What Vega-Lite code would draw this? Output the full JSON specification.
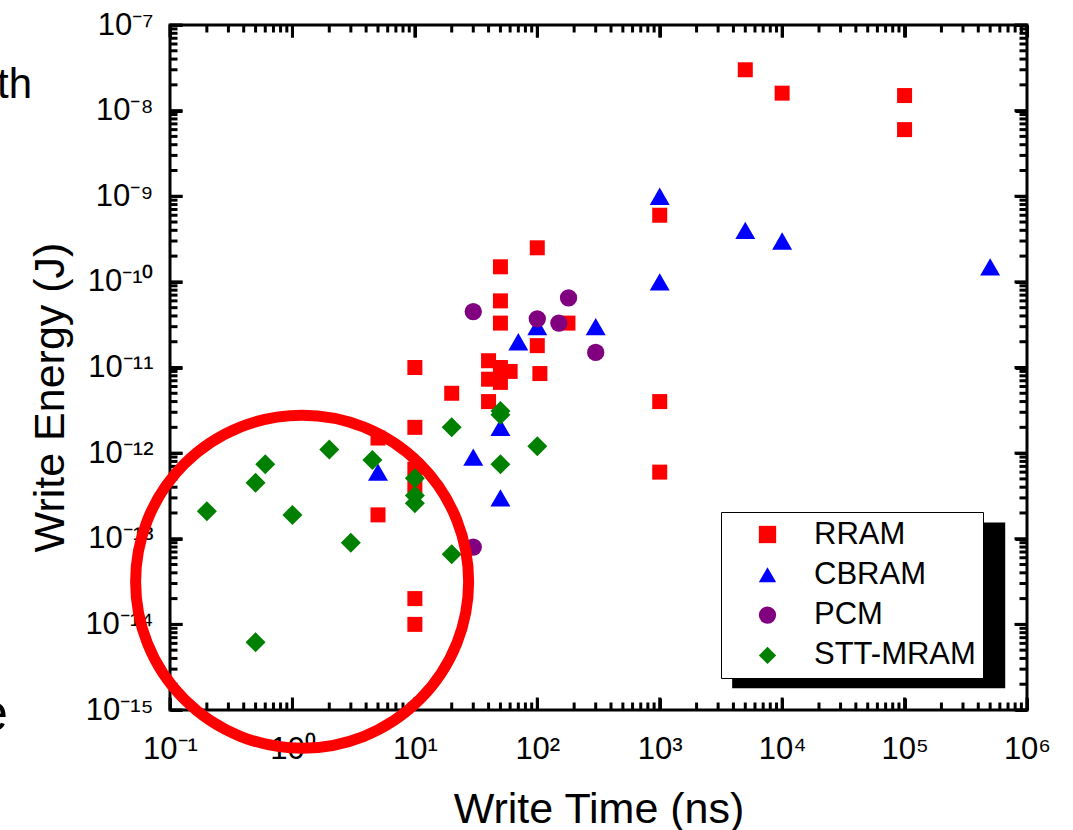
{
  "$schema": "https://vega.github.io/schema/vega-lite/v6.json",
  "width": 857,
  "height": 685,
  "autosize": {"type": "none"},
  "padding": {"left": 170, "top": 25, "right": 46, "bottom": 120},
  "background": "white",
  "config": {
    "view": {"stroke": "black", "strokeWidth": 3},
    "font": "Liberation Sans",
    "axis": {
      "grid": false,
      "domain": false,
      "ticks": true,
      "tickColor": "#000000",
      "labelColor": "black",
      "titleColor": "black",
      "tickWidth": 3,
      "labelFont": "Liberation Sans",
      "titleFont": "Liberation Sans",
      "titleFontWeight": "normal",
      "labelFlush": false,
      "labelOverlap": false
    }
  },
  "datasets": {
    "points": [
      {"series": "RRAM", "time": 5000, "energy": 3e-8},
      {"series": "RRAM", "time": 10000, "energy": 1.6e-8},
      {"series": "RRAM", "time": 100000, "energy": 1.5e-8},
      {"series": "RRAM", "time": 100000, "energy": 6e-9},
      {"series": "RRAM", "time": 1000, "energy": 6e-10},
      {"series": "RRAM", "time": 1000, "energy": 4e-12},
      {"series": "RRAM", "time": 1000, "energy": 6e-13},
      {"series": "RRAM", "time": 100, "energy": 2.5e-10},
      {"series": "RRAM", "time": 50, "energy": 1.5e-10},
      {"series": "RRAM", "time": 50, "energy": 6e-11},
      {"series": "RRAM", "time": 50, "energy": 3.3e-11},
      {"series": "RRAM", "time": 100, "energy": 1.8e-11},
      {"series": "RRAM", "time": 105, "energy": 8.5e-12},
      {"series": "RRAM", "time": 178, "energy": 3.3e-11},
      {"series": "RRAM", "time": 40, "energy": 1.2e-11},
      {"series": "RRAM", "time": 50, "energy": 1e-11},
      {"series": "RRAM", "time": 60, "energy": 9e-12},
      {"series": "RRAM", "time": 40, "energy": 7.3e-12},
      {"series": "RRAM", "time": 50, "energy": 6.7e-12},
      {"series": "RRAM", "time": 40, "energy": 4e-12},
      {"series": "RRAM", "time": 10, "energy": 1e-11},
      {"series": "RRAM", "time": 20, "energy": 5e-12},
      {"series": "RRAM", "time": 10, "energy": 2e-12},
      {"series": "RRAM", "time": 5, "energy": 1.5e-12},
      {"series": "RRAM", "time": 5, "energy": 1.9e-13},
      {"series": "RRAM", "time": 10, "energy": 2e-14},
      {"series": "RRAM", "time": 10, "energy": 1e-14},
      {"series": "RRAM", "time": 10, "energy": 6.5e-13},
      {"series": "RRAM", "time": 10, "energy": 4.2e-13},
      {"series": "CBRAM", "time": 1000, "energy": 1e-9},
      {"series": "CBRAM", "time": 5000, "energy": 4e-10},
      {"series": "CBRAM", "time": 10000, "energy": 3e-10},
      {"series": "CBRAM", "time": 500000, "energy": 1.5e-10},
      {"series": "CBRAM", "time": 1000, "energy": 1e-10},
      {"series": "CBRAM", "time": 300, "energy": 3e-11},
      {"series": "CBRAM", "time": 70, "energy": 2e-11},
      {"series": "CBRAM", "time": 100, "energy": 3e-11},
      {"series": "CBRAM", "time": 50, "energy": 2e-12},
      {"series": "CBRAM", "time": 30, "energy": 9e-13},
      {"series": "CBRAM", "time": 5, "energy": 6e-13},
      {"series": "CBRAM", "time": 50, "energy": 3e-13},
      {"series": "PCM", "time": 30, "energy": 4.5e-11},
      {"series": "PCM", "time": 180, "energy": 6.5e-11},
      {"series": "PCM", "time": 100, "energy": 3.7e-11},
      {"series": "PCM", "time": 150, "energy": 3.3e-11},
      {"series": "PCM", "time": 300, "energy": 1.5e-11},
      {"series": "PCM", "time": 30, "energy": 8e-14},
      {"series": "STT-MRAM", "time": 0.2, "energy": 2.1e-13},
      {"series": "STT-MRAM", "time": 0.5, "energy": 4.5e-13},
      {"series": "STT-MRAM", "time": 0.6, "energy": 7.4e-13},
      {"series": "STT-MRAM", "time": 1, "energy": 1.9e-13},
      {"series": "STT-MRAM", "time": 2, "energy": 1.1e-12},
      {"series": "STT-MRAM", "time": 3, "energy": 9e-14},
      {"series": "STT-MRAM", "time": 4.5, "energy": 8.3e-13},
      {"series": "STT-MRAM", "time": 10, "energy": 5.1e-13},
      {"series": "STT-MRAM", "time": 10, "energy": 3.2e-13},
      {"series": "STT-MRAM", "time": 10, "energy": 2.6e-13},
      {"series": "STT-MRAM", "time": 20, "energy": 2e-12},
      {"series": "STT-MRAM", "time": 20, "energy": 6.6e-14},
      {"series": "STT-MRAM", "time": 0.5, "energy": 6.2e-15},
      {"series": "STT-MRAM", "time": 50, "energy": 3.1e-12},
      {"series": "STT-MRAM", "time": 50, "energy": 2.8e-12},
      {"series": "STT-MRAM", "time": 100, "energy": 1.2e-12},
      {"series": "STT-MRAM", "time": 50, "energy": 7.4e-13}
    ],
    "xticks": [
      {"time": 0.1, "kind": "major"}, {"time": 0.2, "kind": "minor"}, {"time": 0.3, "kind": "minor"}, {"time": 0.4, "kind": "minor"}, {"time": 0.5, "kind": "minor"}, {"time": 0.6, "kind": "minor"}, {"time": 0.7, "kind": "minor"}, {"time": 0.8, "kind": "minor"}, {"time": 0.9, "kind": "minor"},
      {"time": 1, "kind": "major"}, {"time": 2, "kind": "minor"}, {"time": 3, "kind": "minor"}, {"time": 4, "kind": "minor"}, {"time": 5, "kind": "minor"}, {"time": 6, "kind": "minor"}, {"time": 7, "kind": "minor"}, {"time": 8, "kind": "minor"}, {"time": 9, "kind": "minor"},
      {"time": 10, "kind": "major"}, {"time": 20, "kind": "minor"}, {"time": 30, "kind": "minor"}, {"time": 40, "kind": "minor"}, {"time": 50, "kind": "minor"}, {"time": 60, "kind": "minor"}, {"time": 70, "kind": "minor"}, {"time": 80, "kind": "minor"}, {"time": 90, "kind": "minor"},
      {"time": 100, "kind": "major"}, {"time": 200, "kind": "minor"}, {"time": 300, "kind": "minor"}, {"time": 400, "kind": "minor"}, {"time": 500, "kind": "minor"}, {"time": 600, "kind": "minor"}, {"time": 700, "kind": "minor"}, {"time": 800, "kind": "minor"}, {"time": 900, "kind": "minor"},
      {"time": 1000, "kind": "major"}, {"time": 2000, "kind": "minor"}, {"time": 3000, "kind": "minor"}, {"time": 4000, "kind": "minor"}, {"time": 5000, "kind": "minor"}, {"time": 6000, "kind": "minor"}, {"time": 7000, "kind": "minor"}, {"time": 8000, "kind": "minor"}, {"time": 9000, "kind": "minor"},
      {"time": 10000, "kind": "major"}, {"time": 20000, "kind": "minor"}, {"time": 30000, "kind": "minor"}, {"time": 40000, "kind": "minor"}, {"time": 50000, "kind": "minor"}, {"time": 60000, "kind": "minor"}, {"time": 70000, "kind": "minor"}, {"time": 80000, "kind": "minor"}, {"time": 90000, "kind": "minor"},
      {"time": 100000, "kind": "major"}, {"time": 200000, "kind": "minor"}, {"time": 300000, "kind": "minor"}, {"time": 400000, "kind": "minor"}, {"time": 500000, "kind": "minor"}, {"time": 600000, "kind": "minor"}, {"time": 700000, "kind": "minor"}, {"time": 800000, "kind": "minor"}, {"time": 900000, "kind": "minor"},
      {"time": 1000000, "kind": "major"}
    ],
    "yticks": [
      {"energy": 1e-15, "kind": "major"}, {"energy": 2e-15, "kind": "minor"}, {"energy": 3e-15, "kind": "minor"}, {"energy": 4e-15, "kind": "minor"}, {"energy": 5e-15, "kind": "minor"}, {"energy": 6e-15, "kind": "minor"}, {"energy": 7e-15, "kind": "minor"}, {"energy": 8e-15, "kind": "minor"}, {"energy": 9e-15, "kind": "minor"},
      {"energy": 1e-14, "kind": "major"}, {"energy": 2e-14, "kind": "minor"}, {"energy": 3e-14, "kind": "minor"}, {"energy": 4e-14, "kind": "minor"}, {"energy": 5e-14, "kind": "minor"}, {"energy": 6e-14, "kind": "minor"}, {"energy": 7e-14, "kind": "minor"}, {"energy": 8e-14, "kind": "minor"}, {"energy": 9e-14, "kind": "minor"},
      {"energy": 1e-13, "kind": "major"}, {"energy": 2e-13, "kind": "minor"}, {"energy": 3e-13, "kind": "minor"}, {"energy": 4e-13, "kind": "minor"}, {"energy": 5e-13, "kind": "minor"}, {"energy": 6e-13, "kind": "minor"}, {"energy": 7e-13, "kind": "minor"}, {"energy": 8e-13, "kind": "minor"}, {"energy": 9e-13, "kind": "minor"},
      {"energy": 1e-12, "kind": "major"}, {"energy": 2e-12, "kind": "minor"}, {"energy": 3e-12, "kind": "minor"}, {"energy": 4e-12, "kind": "minor"}, {"energy": 5e-12, "kind": "minor"}, {"energy": 6e-12, "kind": "minor"}, {"energy": 7e-12, "kind": "minor"}, {"energy": 8e-12, "kind": "minor"}, {"energy": 9e-12, "kind": "minor"},
      {"energy": 1e-11, "kind": "major"}, {"energy": 2e-11, "kind": "minor"}, {"energy": 3e-11, "kind": "minor"}, {"energy": 4e-11, "kind": "minor"}, {"energy": 5e-11, "kind": "minor"}, {"energy": 6e-11, "kind": "minor"}, {"energy": 7e-11, "kind": "minor"}, {"energy": 8e-11, "kind": "minor"}, {"energy": 9e-11, "kind": "minor"},
      {"energy": 1e-10, "kind": "major"}, {"energy": 2e-10, "kind": "minor"}, {"energy": 3e-10, "kind": "minor"}, {"energy": 4e-10, "kind": "minor"}, {"energy": 5e-10, "kind": "minor"}, {"energy": 6e-10, "kind": "minor"}, {"energy": 7e-10, "kind": "minor"}, {"energy": 8e-10, "kind": "minor"}, {"energy": 9e-10, "kind": "minor"},
      {"energy": 1e-9, "kind": "major"}, {"energy": 2e-9, "kind": "minor"}, {"energy": 3e-9, "kind": "minor"}, {"energy": 4e-9, "kind": "minor"}, {"energy": 5e-9, "kind": "minor"}, {"energy": 6e-9, "kind": "minor"}, {"energy": 7e-9, "kind": "minor"}, {"energy": 8e-9, "kind": "minor"}, {"energy": 9e-9, "kind": "minor"},
      {"energy": 1e-8, "kind": "major"}, {"energy": 2e-8, "kind": "minor"}, {"energy": 3e-8, "kind": "minor"}, {"energy": 4e-8, "kind": "minor"}, {"energy": 5e-8, "kind": "minor"}, {"energy": 6e-8, "kind": "minor"}, {"energy": 7e-8, "kind": "minor"}, {"energy": 8e-8, "kind": "minor"}, {"energy": 9e-8, "kind": "minor"},
      {"energy": 1e-7, "kind": "major"}
    ],
    "ring": [{"time": 1.2, "energy": 3.15e-14}],
    "shadow": [{"time": 3905, "time2": 663700, "energy": 1.55e-13, "energy2": 1.8e-15}],
    "cut1": [{"time": 0.00746, "energy": 1.4e-8, "label": "th"}],
    "cut2": [{"time": 0.00475, "energy": 5.8e-16, "label": "e"}]
  },
  "layer": [
    {
      "data": {"name": "shadow"},
      "mark": {"type": "rect", "color": "black"},
      "encoding": {
        "x": {"field": "time", "type": "quantitative", "scale": {"type": "log", "domain": [0.1, 1000000], "nice": false}, "axis": null},
        "x2": {"field": "time2"},
        "y": {"field": "energy", "type": "quantitative", "scale": {"type": "log", "domain": [1e-15, 1e-7], "nice": false}, "axis": null},
        "y2": {"field": "energy2"}
      }
    },
    {
      "data": {"name": "xticks"},
      "mark": {"type": "point", "shape": "M0,0L0,-1", "filled": false, "stroke": "#000000", "strokeWidth": 3, "opacity": 1, "strokeOpacity": 1},
      "encoding": {
        "x": {"field": "time", "type": "quantitative", "scale": {"type": "log", "domain": [0.1, 1000000], "nice": false}, "axis": null},
        "y": {"datum": 1e-15, "type": "quantitative", "scale": {"type": "log", "domain": [1e-15, 1e-7], "nice": false}, "axis": null},
        "size": {"field": "kind", "type": "nominal", "scale": {"type": "ordinal", "domain": ["major", "minor"], "range": [625, 225]}, "legend": null}
      }
    },
    {
      "data": {"name": "xticks"},
      "mark": {"type": "point", "shape": "M0,0L0,1", "filled": false, "stroke": "#000000", "strokeWidth": 3, "opacity": 1, "strokeOpacity": 1},
      "encoding": {
        "x": {"field": "time", "type": "quantitative", "scale": {"type": "log", "domain": [0.1, 1000000], "nice": false}, "axis": null},
        "y": {"datum": 1e-7, "type": "quantitative", "scale": {"type": "log", "domain": [1e-15, 1e-7], "nice": false}, "axis": null},
        "size": {"field": "kind", "type": "nominal", "scale": {"type": "ordinal", "domain": ["major", "minor"], "range": [625, 225]}, "legend": null}
      }
    },
    {
      "data": {"name": "yticks"},
      "mark": {"type": "point", "shape": "M0,0L1,0", "filled": false, "stroke": "#000000", "strokeWidth": 3, "opacity": 1, "strokeOpacity": 1},
      "encoding": {
        "x": {"datum": 0.1, "type": "quantitative", "scale": {"type": "log", "domain": [0.1, 1000000], "nice": false}, "axis": null},
        "y": {"field": "energy", "type": "quantitative", "scale": {"type": "log", "domain": [1e-15, 1e-7], "nice": false}, "axis": null},
        "size": {"field": "kind", "type": "nominal", "scale": {"type": "ordinal", "domain": ["major", "minor"], "range": [625, 225]}, "legend": null}
      }
    },
    {
      "data": {"name": "yticks"},
      "mark": {"type": "point", "shape": "M0,0L-1,0", "filled": false, "stroke": "#000000", "strokeWidth": 3, "opacity": 1, "strokeOpacity": 1},
      "encoding": {
        "x": {"datum": 1000000, "type": "quantitative", "scale": {"type": "log", "domain": [0.1, 1000000], "nice": false}, "axis": null},
        "y": {"field": "energy", "type": "quantitative", "scale": {"type": "log", "domain": [1e-15, 1e-7], "nice": false}, "axis": null},
        "size": {"field": "kind", "type": "nominal", "scale": {"type": "ordinal", "domain": ["major", "minor"], "range": [625, 225]}, "legend": null}
      }
    },
    {
      "data": {"name": "points"},
      "mark": {"type": "point", "filled": true, "opacity": 1, "strokeWidth": 0},
      "encoding": {
        "x": {
          "field": "time", "type": "quantitative",
          "scale": {"type": "log", "domain": [0.1, 1000000], "nice": false},
          "axis": {
            "orient": "bottom",
            "offset": -12,
            "tickSize": 12,
            "values": [0.1, 1, 10, 100, 1000, 10000, 100000, 1000000],
            "labelExpr": "'10' + replace(replace(replace(replace(replace(replace(replace(replace(replace(replace(replace('' + round(log(datum.value)/LN10), regexp('-','g'), '⁻'), regexp('0','g'), '⁰'), regexp('1','g'), '¹'), regexp('2','g'), '²'), regexp('3','g'), '³'), regexp('4','g'), '⁴'), regexp('5','g'), '⁵'), regexp('6','g'), '⁶'), regexp('7','g'), '⁷'), regexp('8','g'), '⁸'), regexp('9','g'), '⁹')",
            "labelFontSize": 31,
            "labelPadding": 48,
            "labelBaseline": "alphabetic",
            "title": "Write Time (ns)",
            "titleFontSize": 43,
            "titleBaseline": "alphabetic",
            "titleY": 124
          }
        },
        "y": {
          "field": "energy", "type": "quantitative",
          "scale": {"type": "log", "domain": [1e-15, 1e-7], "nice": false},
          "axis": {
            "orient": "left",
            "offset": -12,
            "tickSize": 12,
            "values": [1e-15, 1e-14, 1e-13, 1e-12, 1e-11, 1e-10, 1e-9, 1e-8, 1e-7],
            "labelExpr": "'10' + replace(replace(replace(replace(replace(replace(replace(replace(replace(replace(replace('' + round(log(datum.value)/LN10), regexp('-','g'), '⁻'), regexp('0','g'), '⁰'), regexp('1','g'), '¹'), regexp('2','g'), '²'), regexp('3','g'), '³'), regexp('4','g'), '⁴'), regexp('5','g'), '⁵'), regexp('6','g'), '⁶'), regexp('7','g'), '⁷'), regexp('8','g'), '⁸'), regexp('9','g'), '⁹')",
            "labelFontSize": 31,
            "labelPadding": 17,
            "title": "Write Energy (J)",
            "titleFontSize": 43,
            "titleBaseline": "alphabetic",
            "titleX": -119,
            "titleY": 372
          }
        },
        "color": {
          "field": "series", "type": "nominal",
          "scale": {"domain": ["RRAM", "CBRAM", "PCM", "STT-MRAM"], "range": ["#FF0000", "#0000FF", "#800080", "#008000"]},
          "legend": {
            "title": null,
            "orient": "none",
            "legendX": 551,
            "legendY": 487,
            "padding": 7,
            "strokeColor": "black",
            "fillColor": "white",
            "labelFontSize": 31,
            "labelColor": "black",
            "labelFont": "Liberation Sans",
            "labelLimit": 400,
            "symbolSize": 300,
            "symbolOffset": 24,
            "labelOffset": 31,
            "rowPadding": 8.3,
            "symbolStrokeWidth": 0,
            "symbolOpacity": 1
          }
        },
        "shape": {
          "field": "series", "type": "nominal",
          "scale": {"domain": ["RRAM", "CBRAM", "PCM", "STT-MRAM"], "range": ["square", "triangle-up", "circle", "diamond"]}
        },
        "size": {
          "field": "series", "type": "nominal",
          "scale": {"type": "ordinal", "domain": ["RRAM", "CBRAM", "PCM", "STT-MRAM"], "range": [225, 400, 300, 400]},
          "legend": null
        }
      }
    },
    {
      "data": {"name": "ring"},
      "mark": {"type": "point", "shape": "circle", "filled": false, "stroke": "#FF0000", "strokeWidth": 11, "size": 110889, "opacity": 1},
      "encoding": {
        "x": {
          "field": "time", "type": "quantitative",
          "scale": {"type": "log", "domain": [0.1, 1000000], "nice": false},
          "axis": {
            "orient": "top",
            "offset": -12,
            "tickSize": 12,
            "values": [0.1, 1, 10, 100, 1000, 10000, 100000, 1000000],
            "labels": false,
            "title": null
          }
        },
        "y": {
          "field": "energy", "type": "quantitative",
          "scale": {"type": "log", "domain": [1e-15, 1e-7], "nice": false},
          "axis": {
            "orient": "right",
            "offset": -12,
            "tickSize": 12,
            "values": [1e-15, 1e-14, 1e-13, 1e-12, 1e-11, 1e-10, 1e-9, 1e-8, 1e-7],
            "labels": false,
            "title": null
          }
        }
      }
    },
    {
      "data": {"name": "cut1"},
      "mark": {"type": "text", "align": "right", "baseline": "alphabetic", "fontSize": 42, "font": "Liberation Sans", "color": "black"},
      "encoding": {
        "x": {"field": "time", "type": "quantitative", "scale": {"type": "log", "domain": [0.1, 1000000], "nice": false}, "axis": null},
        "y": {"field": "energy", "type": "quantitative", "scale": {"type": "log", "domain": [1e-15, 1e-7], "nice": false}, "axis": null},
        "text": {"field": "label"}
      }
    },
    {
      "data": {"name": "cut2"},
      "mark": {"type": "text", "align": "right", "baseline": "alphabetic", "fontSize": 52, "font": "Liberation Sans", "color": "black"},
      "encoding": {
        "x": {"field": "time", "type": "quantitative", "scale": {"type": "log", "domain": [0.1, 1000000], "nice": false}, "axis": null},
        "y": {"field": "energy", "type": "quantitative", "scale": {"type": "log", "domain": [1e-15, 1e-7], "nice": false}, "axis": null},
        "text": {"field": "label"}
      }
    }
  ],
  "resolve": {"axis": {"x": "independent", "y": "independent"}, "scale": {"size": "independent"}}
}
